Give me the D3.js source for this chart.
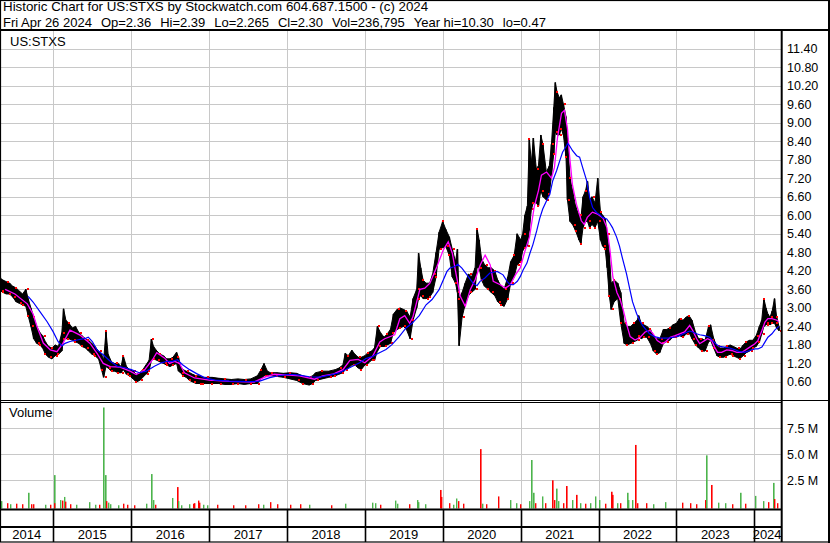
<!DOCTYPE html>
<html><head><meta charset="utf-8">
<script src="https://cdn.jsdelivr.net/npm/d3@7"></script>
<style>
body{margin:0;background:#fff}
svg{display:block}
text{font-family:"Liberation Sans",Arial,sans-serif;font-size:13px;fill:#000}
</style>
</head><body>
<svg id="c" width="830" height="543"></svg>
<script>
// ---------- DATA ----------
const titleLine1 = "Historic Chart for US:STXS by Stockwatch.com 604.687.1500 - (c) 2024";
const titleLine2Parts = ["Fri Apr 26 2024","Op=2.36","Hi=2.39","Lo=2.265","Cl=2.30","Vol=236,795","Year hi=10.30","lo=0.47"];
const symbolLabel = "US:STXS";
const volumeLabel = "Volume";
const dateStart = "2014-04-26", dateEnd = "2024-04-26";
const yearLabels = ["2014","2015","2016","2017","2018","2019","2020","2021","2022","2023","2024"];
const priceTicks = [0.6,1.2,1.8,2.4,3.0,3.6,4.2,4.8,5.4,6.0,6.6,7.2,7.8,8.4,9.0,9.6,10.2,10.8,11.4];
const priceTickLabels = ["0.60","1.20","1.80","2.40","3.00","3.60","4.20","4.80","5.40","6.00","6.60","7.20","7.80","8.40","9.00","9.60","10.20","10.80","11.40"];
const volTicks = [2.5,5.0,7.5];
const volTickLabels = ["2.5 M","5.0 M","7.5 M"];

// price range samples: [date, high, low]
const priceRange = [
["2014-04-26",4.40,3.60],["2014-04-29",3.95,3.55],["2014-05-10",3.90,3.50],["2014-05-25",3.85,3.45],
["2014-06-10",3.80,3.45],["2014-06-25",3.70,3.35],["2014-07-10",3.65,3.20],["2014-07-25",3.55,3.15],
["2014-08-10",3.45,3.10],["2014-08-25",3.60,3.05],["2014-09-05",3.30,2.75],["2014-09-18",3.00,2.40],
["2014-10-01",2.70,2.00],["2014-10-15",2.40,1.85],["2014-10-30",2.20,1.80],["2014-11-12",2.10,1.70],
["2014-11-25",1.90,1.50],["2014-12-10",1.75,1.40],["2014-12-25",1.70,1.35],
["2015-01-10",1.80,1.45],["2015-01-25",1.75,1.50],["2015-02-10",2.20,1.60],["2015-02-18",2.97,2.00],
["2015-03-01",2.60,2.00],["2015-03-15",2.50,2.00],["2015-04-01",2.35,1.95],["2015-04-15",2.40,1.90],
["2015-05-01",2.20,1.85],["2015-05-15",2.10,1.75],["2015-06-01",2.00,1.70],["2015-06-15",1.95,1.60],
["2015-07-01",1.85,1.50],["2015-07-15",1.75,1.45],["2015-08-01",1.60,1.35],["2015-08-15",1.50,1.00],
["2015-08-25",1.30,0.75],["2015-09-05",2.25,1.10],["2015-09-15",1.50,1.05],["2015-10-01",1.25,0.95],
["2015-10-15",1.20,0.95],["2015-11-01",1.20,0.90],["2015-11-15",1.10,0.90],["2015-11-25",1.45,1.00],
["2015-12-10",1.10,0.85],["2015-12-25",1.00,0.80],
["2016-01-10",0.95,0.70],["2016-01-25",0.85,0.60],["2016-02-10",0.90,0.65],["2016-02-25",1.00,0.75],
["2016-03-10",1.15,0.85],["2016-03-25",1.30,0.95],["2016-04-05",1.99,1.30],["2016-04-15",1.75,1.35],
["2016-05-01",1.60,1.30],["2016-05-15",1.50,1.25],["2016-06-01",1.45,1.20],["2016-06-15",1.35,1.15],
["2016-07-01",1.35,1.10],["2016-07-15",1.40,1.15],["2016-08-01",1.56,1.20],["2016-08-10",1.40,0.95],
["2016-08-20",1.10,0.90],["2016-09-01",1.00,0.80],["2016-09-15",0.95,0.75],["2016-10-01",0.90,0.65],
["2016-10-15",0.85,0.60],["2016-11-01",0.80,0.55],["2016-11-15",0.80,0.55],["2016-12-01",0.75,0.55],
["2016-12-15",0.75,0.55],
["2017-01-15",0.75,0.55],["2017-02-15",0.72,0.55],["2017-03-15",0.70,0.52],["2017-04-15",0.68,0.52],
["2017-05-15",0.70,0.55],["2017-06-15",0.68,0.52],["2017-07-15",0.70,0.55],["2017-08-15",0.80,0.55],
["2017-09-01",1.00,0.70],["2017-09-15",1.20,0.80],["2017-10-01",0.95,0.80],["2017-10-15",0.90,0.80],
["2017-11-15",0.90,0.78],["2017-12-15",0.88,0.75],
["2018-01-15",0.90,0.70],["2018-02-15",0.88,0.65],["2018-03-15",0.80,0.55],["2018-04-15",0.75,0.50],
["2018-05-01",0.80,0.55],["2018-05-15",0.90,0.65],["2018-06-15",0.95,0.70],["2018-07-15",0.95,0.75],
["2018-08-15",1.00,0.80],["2018-09-01",1.05,0.85],["2018-09-20",1.15,0.90],["2018-10-01",1.53,1.00],
["2018-10-15",1.45,1.05],["2018-11-01",1.63,1.15],["2018-11-15",1.50,1.15],["2018-12-01",1.40,1.05],
["2018-12-15",1.40,1.00],
["2019-01-01",1.45,1.15],["2019-01-15",1.55,1.20],["2019-02-01",1.60,1.30],["2019-02-15",1.70,1.30],
["2019-03-01",2.40,1.60],["2019-03-15",2.20,1.75],["2019-04-01",2.05,1.75],["2019-04-15",2.15,1.80],
["2019-05-01",2.30,1.85],["2019-05-15",2.80,2.20],["2019-06-01",2.95,2.30],["2019-06-15",3.00,2.35],
["2019-07-01",2.95,2.40],["2019-07-15",2.90,2.30],["2019-08-01",2.70,2.00],["2019-08-15",3.30,2.60],
["2019-09-01",3.60,3.00],["2019-09-10",4.77,3.30],["2019-09-20",4.30,3.40],["2019-10-01",3.90,3.30],
["2019-10-15",3.80,3.30],["2019-11-01",3.80,3.35],["2019-11-15",4.10,3.50],["2019-12-01",4.80,4.00],
["2019-12-15",5.45,4.90],
["2020-01-01",5.80,4.95],["2020-01-15",5.55,5.00],["2020-02-01",5.30,4.70],["2020-02-15",4.90,4.00],
["2020-03-01",4.50,3.80],["2020-03-10",4.90,3.50],["2020-03-18",3.30,1.77],["2020-04-01",3.50,2.70],
["2020-04-15",3.80,3.10],["2020-05-01",4.10,3.40],["2020-05-15",4.00,3.50],["2020-06-01",4.30,3.60],
["2020-06-10",5.57,4.30],["2020-06-20",5.20,4.30],["2020-07-01",4.60,3.90],["2020-07-15",4.40,3.70],
["2020-08-01",4.30,3.60],["2020-08-15",4.30,3.50],["2020-09-01",4.20,3.40],["2020-09-15",3.90,3.20],
["2020-10-01",3.70,3.10],["2020-10-15",3.60,3.05],["2020-11-01",4.00,3.30],["2020-11-15",4.50,3.80],
["2020-12-01",4.70,4.00],["2020-12-15",5.40,4.40],
["2021-01-01",5.20,4.50],["2021-01-10",5.40,4.85],["2021-01-20",6.00,4.95],["2021-02-01",6.30,5.00],
["2021-02-10",8.47,5.50],["2021-02-20",7.70,6.20],["2021-03-01",8.50,6.40],["2021-03-15",7.50,6.40],
["2021-03-25",7.60,6.30],["2021-04-05",8.60,6.80],["2021-04-15",8.30,6.60],["2021-05-01",7.40,6.50],
["2021-05-15",7.60,6.70],["2021-05-25",8.30,7.30],["2021-06-05",9.50,8.00],["2021-06-12",10.30,8.70],
["2021-06-20",10.00,8.60],["2021-07-01",9.80,8.60],["2021-07-10",9.90,8.80],["2021-07-20",9.60,8.60],
["2021-08-01",9.20,7.90],["2021-08-08",8.50,6.50],["2021-08-20",7.20,5.80],["2021-09-01",6.80,5.70],
["2021-09-15",6.30,5.50],["2021-10-01",6.00,5.20],["2021-10-10",5.90,5.07],["2021-10-20",6.60,5.60],
["2021-11-01",6.80,5.80],["2021-11-10",7.10,5.80],["2021-11-20",6.50,5.60],["2021-12-01",6.60,5.70],
["2021-12-15",6.40,5.60],["2021-12-28",7.20,5.80],
["2022-01-10",6.10,5.20],["2022-01-20",6.00,5.00],["2022-02-01",5.90,4.90],["2022-02-10",5.40,4.30],
["2022-02-20",4.80,3.40],["2022-03-01",3.80,2.95],["2022-03-15",3.90,3.20],["2022-04-01",3.80,3.30],
["2022-04-15",3.50,2.50],["2022-05-01",2.50,1.85],["2022-05-15",2.40,1.80],["2022-06-01",2.40,1.85],
["2022-06-15",2.50,1.90],["2022-07-01",2.60,1.95],["2022-07-08",2.75,2.10],["2022-07-20",2.50,2.00],
["2022-08-01",2.45,2.05],["2022-08-15",2.40,2.05],["2022-09-01",2.30,1.85],["2022-09-15",2.10,1.60],
["2022-10-01",2.00,1.50],["2022-10-15",2.00,1.55],["2022-11-01",2.30,1.85],["2022-11-15",2.30,1.90],
["2022-12-01",2.35,1.95],["2022-12-15",2.45,2.05],
["2023-01-01",2.50,2.05],["2023-01-15",2.65,2.10],["2023-02-01",2.60,2.05],["2023-02-15",2.70,2.15],
["2023-03-01",2.75,2.20],["2023-03-15",2.60,2.00],["2023-04-01",2.20,1.80],["2023-04-15",2.00,1.70],
["2023-05-01",2.00,1.60],["2023-05-15",1.95,1.60],["2023-06-01",2.40,1.90],["2023-06-10",2.45,1.95],
["2023-06-25",2.00,1.70],["2023-07-10",1.75,1.45],["2023-07-25",1.70,1.40],["2023-08-10",1.70,1.40],
["2023-08-25",1.75,1.45],["2023-09-10",1.80,1.50],["2023-09-25",1.75,1.45],["2023-10-10",1.70,1.40],
["2023-10-25",1.65,1.35],["2023-11-10",1.80,1.45],["2023-11-25",1.90,1.55],["2023-12-10",1.95,1.60],
["2023-12-25",1.95,1.70],
["2024-01-10",2.10,1.75],["2024-01-25",2.40,1.90],["2024-02-05",2.60,2.15],["2024-02-15",3.30,2.40],
["2024-02-25",3.00,2.45],["2024-03-05",2.80,2.50],["2024-03-15",2.70,2.45],["2024-03-25",2.90,2.50],
["2024-04-05",3.30,2.50],["2024-04-15",2.70,2.35],["2024-04-26",2.40,2.26]
];

// short moving average (magenta): [date, value]
const maShort = [
["2014-05-20",3.60],["2014-07-05",3.45],["2014-09-01",3.13],["2014-09-28",2.80],["2014-10-17",2.39],
["2014-11-15",1.86],["2014-12-18",1.64],["2015-01-18",1.58],["2015-02-15",1.85],["2015-03-20",2.28],
["2015-04-13",2.20],["2015-05-06",2.12],["2015-06-22",1.85],["2015-07-25",1.53],["2015-08-23",1.20],
["2015-09-25",1.10],["2015-11-10",1.08],["2015-12-27",0.95],["2016-01-25",0.84],["2016-03-03",0.98],
["2016-04-10",1.32],["2016-04-30",1.55],["2016-06-05",1.38],["2016-06-29",1.20],["2016-07-22",1.27],
["2016-08-15",1.20],["2016-09-07",0.90],["2016-10-24",0.73],["2017-01-01",0.66],["2017-04-04",0.62],
["2017-07-31",0.60],["2017-09-16",0.75],["2017-11-02",0.85],["2018-01-13",0.82],["2018-02-28",0.80],
["2018-05-10",0.69],["2018-06-17",0.80],["2018-08-03",0.85],["2018-09-20",1.00],["2018-10-23",1.30],
["2018-11-30",1.33],["2019-01-01",1.22],["2019-02-07",1.44],["2019-03-12",1.90],["2019-04-04",2.00],
["2019-05-21",2.13],["2019-06-14",2.65],["2019-07-07",2.75],["2019-07-30",2.50],["2019-08-14",2.70],
["2019-09-16",3.60],["2019-10-09",3.64],["2019-11-02",3.80],["2019-12-05",4.34],["2020-01-04",4.88],
["2020-01-27",5.14],["2020-02-15",4.77],["2020-02-29",4.23],["2020-03-23",3.38],["2020-04-16",3.05],
["2020-05-09",3.59],["2020-06-01",3.91],["2020-06-25",4.39],["2020-07-18",4.71],["2020-08-11",4.39],
["2020-08-25",3.86],["2020-09-27",3.75],["2020-10-21",3.64],["2020-11-13",3.75],["2020-12-07",4.07],
["2020-12-30",4.30],["2021-01-19",4.80],["2021-02-11",5.30],["2021-03-06",6.30],["2021-03-25",6.80],
["2021-04-08",7.30],["2021-05-02",7.40],["2021-05-25",7.20],["2021-06-08",7.55],["2021-06-22",8.50],
["2021-07-11",9.30],["2021-07-25",9.40],["2021-08-08",8.80],["2021-08-17",8.00],["2021-08-31",7.00],
["2021-09-19",6.36],["2021-10-12",5.82],["2021-10-26",5.70],["2021-11-09",5.93],["2021-12-03",6.10],
["2021-12-27",6.04],["2022-01-22",5.90],["2022-02-09",5.60],["2022-02-23",4.90],["2022-03-09",4.00],
["2022-03-28",3.50],["2022-04-12",3.27],["2022-04-26",2.95],["2022-05-15",2.41],["2022-05-29",2.07],
["2022-06-21",1.96],["2022-07-15",2.05],["2022-08-07",2.22],["2022-08-31",2.27],["2022-09-14",2.16],
["2022-10-03",1.94],["2022-10-26",1.84],["2022-11-09",1.89],["2022-12-03",2.05],["2022-12-26",2.10],
["2023-01-16",2.16],["2023-02-08",2.22],["2023-03-04",2.43],["2023-03-18",2.27],["2023-04-06",2.00],
["2023-04-20",1.84],["2023-05-13",1.94],["2023-05-27",2.00],["2023-06-15",1.94],["2023-06-29",1.73],
["2023-07-13",1.56],["2023-08-01",1.56],["2023-08-25",1.64],["2023-09-17",1.62],["2023-10-11",1.56],
["2023-11-03",1.56],["2023-11-17",1.62],["2023-12-11",1.73],["2024-01-04",1.84],["2024-01-18",1.94],
["2024-02-06",2.27],["2024-02-20",2.54],["2024-03-05",2.65],["2024-03-24",2.65],["2024-04-16",2.60],
["2024-04-26",2.55]
];

// long moving average (blue): [date, value]
const maLong = [
["2014-09-05",3.37],["2014-09-28",3.19],["2014-10-31",2.87],["2014-12-03",2.55],["2014-12-31",2.23],
["2015-01-23",1.91],["2015-02-11",1.77],["2015-02-25",1.85],["2015-03-20",1.91],["2015-04-23",1.96],
["2015-05-30",2.01],["2015-06-14",2.05],["2015-07-03",1.91],["2015-07-25",1.64],["2015-08-23",1.48],
["2015-09-25",1.27],["2015-10-28",1.11],["2015-12-04",1.06],["2016-01-02",1.00],["2016-02-08",0.90],
["2016-03-12",0.95],["2016-04-19",1.11],["2016-05-22",1.22],["2016-06-19",1.27],["2016-07-13",1.27],
["2016-08-05",1.32],["2016-08-29",1.16],["2016-10-01",1.00],["2016-11-03",0.87],["2016-12-10",0.74],
["2017-01-27",0.66],["2017-04-07",0.63],["2017-07-10",0.61],["2017-08-26",0.63],["2017-10-12",0.74],
["2017-11-28",0.81],["2018-01-13",0.85],["2018-02-28",0.82],["2018-04-16",0.77],["2018-06-02",0.76],
["2018-07-19",0.82],["2018-09-04",0.90],["2018-10-21",1.06],["2018-12-07",1.22],["2019-01-06",1.36],
["2019-02-03",1.42],["2019-03-08",1.54],["2019-04-10",1.65],["2019-05-08",1.81],["2019-06-10",2.06],
["2019-07-13",2.35],["2019-08-10",2.50],["2019-09-13",2.75],["2019-10-15",3.10],["2019-11-12",3.27],
["2019-12-15",3.59],["2020-01-21",4.18],["2020-02-04",4.29],["2020-02-27",4.34],["2020-03-12",4.41],
["2020-03-31",4.29],["2020-04-24",4.07],["2020-05-22",3.80],["2020-06-10",3.72],["2020-06-24",3.86],
["2020-07-17",3.97],["2020-08-09",4.13],["2020-09-12",4.18],["2020-10-10",4.07],["2020-10-29",3.86],
["2020-11-12",3.75],["2020-11-27",3.75],["2020-12-16",3.86],["2020-12-30",4.02],["2021-01-12",4.23],
["2021-01-30",4.45],["2021-02-13",4.77],["2021-02-27",5.05],["2021-03-17",5.50],["2021-03-31",5.90],
["2021-04-14",6.20],["2021-05-02",6.47],["2021-05-17",6.67],["2021-05-31",7.12],["2021-06-18",7.44],
["2021-07-03",7.77],["2021-07-16",8.04],["2021-08-04",8.25],["2021-08-09",8.33],["2021-08-18",8.25],
["2021-09-01",8.09],["2021-09-20",7.93],["2021-10-04",7.88],["2021-10-18",7.55],["2021-11-06",7.12],
["2021-11-20",6.58],["2021-12-04",6.25],["2021-12-22",6.09],["2022-01-06",6.02],["2022-01-20",5.93],
["2022-02-08",5.88],["2022-02-22",5.75],["2022-03-07",5.60],["2022-03-26",5.30],["2022-04-09",5.00],
["2022-04-23",4.60],["2022-05-12",4.10],["2022-05-26",3.65],["2022-06-09",3.20],["2022-06-28",2.82],
["2022-07-12",2.60],["2022-07-26",2.43],["2022-08-14",2.27],["2022-08-28",2.16],["2022-09-20",2.07],
["2022-10-14",2.03],["2022-11-06",2.02],["2022-11-30",2.03],["2022-12-23",2.05],["2023-01-16",2.10],
["2023-02-08",2.18],["2023-03-04",2.25],["2023-03-18",2.22],["2023-04-05",2.16],["2023-04-20",2.13],
["2023-05-13",2.10],["2023-06-06",2.05],["2023-06-20",1.94],["2023-07-08",1.81],["2023-07-22",1.75],
["2023-08-15",1.73],["2023-09-07",1.70],["2023-10-01",1.65],["2023-10-24",1.58],["2023-11-17",1.56],
["2023-12-11",1.62],["2024-01-04",1.67],["2024-01-18",1.67],["2024-02-06",1.73],["2024-02-20",1.89],
["2024-03-05",2.05],["2024-03-24",2.16],["2024-04-07",2.29],["2024-04-26",2.40]
];

// volume bars: [date, millions of shares, up day?]
const volumeBars = [
["2014-04-30",0.5,1],["2014-05-28",0.3,0],["2014-06-12",0.2,1],["2014-07-10",0.25,0],["2014-08-06",0.2,0],
["2014-09-02",1.3,1],["2014-09-19",0.2,0],["2014-09-28",0.2,0],["2014-11-24",0.15,1],["2014-12-18",0.15,0],
["2015-01-02",3.0,1],["2015-01-05",0.3,0],["2015-02-03",0.6,1],["2015-02-09",0.55,0],["2015-02-18",0.9,1],
["2015-02-25",0.45,0],["2015-03-20",0.2,0],["2015-04-17",0.15,1],["2015-06-18",0.4,1],["2015-07-15",0.15,1],
["2015-08-03",0.15,0],["2015-08-24",9.5,1],["2015-09-01",3.0,1],["2015-09-04",0.5,0],["2015-09-15",0.35,1],
["2015-09-23",0.2,1],["2015-10-31",0.1,1],["2015-11-25",0.25,0],["2015-12-12",0.15,0],["2016-01-14",0.1,0],
["2016-03-11",0.25,1],["2016-04-04",3.1,1],["2016-04-11",0.6,1],["2016-04-22",0.15,0],["2016-07-10",0.8,1],
["2016-08-03",1.85,0],["2016-08-10",0.5,1],["2016-08-23",0.1,1],["2016-09-30",0.2,1],["2016-10-16",0.25,0],
["2016-10-23",0.3,0],["2016-11-10",0.55,0],["2016-11-16",0.35,0],["2016-12-05",0.15,1],["2016-12-24",0.1,1],
["2017-02-08",0.15,0],["2017-04-24",0.1,0],["2017-06-20",0.1,0],["2017-08-20",0.2,0],["2017-09-12",0.15,1],
["2017-10-15",0.4,0],["2017-11-15",0.2,0],["2018-01-13",0.15,0],["2018-03-01",0.2,0],["2018-04-13",0.15,1],
["2018-07-25",0.1,0],["2018-09-29",0.25,1],["2019-02-02",0.35,1],["2019-02-18",0.3,1],["2019-03-12",0.15,0],
["2019-05-22",0.55,1],["2019-06-01",0.25,1],["2019-07-27",0.2,0],["2019-09-02",0.6,1],["2019-09-08",0.4,1],
["2019-10-10",0.2,1],["2019-12-17",1.57,0],["2019-12-24",0.9,0],["2020-01-29",0.3,0],["2020-02-16",0.15,1],
["2020-03-03",0.75,1],["2020-03-15",0.5,0],["2020-04-07",0.25,0],["2020-06-23",5.5,0],["2020-07-01",0.25,1],
["2020-07-20",0.2,0],["2020-09-18",0.95,0],["2020-11-10",0.6,1],["2020-12-08",0.3,1],["2020-12-27",0.2,0],
["2021-02-07",0.5,1],["2021-02-19",4.45,1],["2021-02-27",1.3,1],["2021-03-07",0.3,0],["2021-04-12",0.95,1],
["2021-04-23",0.3,0],["2021-05-29",2.5,0],["2021-06-05",0.6,0],["2021-06-13",1.7,1],["2021-06-24",0.5,1],
["2021-07-17",0.3,0],["2021-08-03",1.95,0],["2021-08-27",0.6,1],["2021-09-15",1.1,0],["2021-10-05",0.3,1],
["2021-10-29",0.25,0],["2021-11-21",0.3,1],["2021-12-15",0.95,1],["2022-01-05",0.6,1],["2022-02-01",0.25,0],
["2022-02-27",1.4,0],["2022-03-06",1.1,0],["2022-03-29",0.3,1],["2022-04-12",0.3,0],["2022-05-13",1.3,1],
["2022-05-21",0.6,1],["2022-06-06",0.6,1],["2022-06-21",5.9,0],["2022-07-01",0.3,0],["2022-08-12",0.3,0],
["2022-09-14",0.2,1],["2022-11-09",0.4,1],["2023-01-29",0.35,0],["2023-03-04",0.3,0],["2023-04-01",0.2,0],
["2023-05-15",0.6,0],["2023-05-18",4.9,1],["2023-06-14",2.05,0],["2023-07-13",0.35,1],["2023-08-16",0.3,1],
["2023-09-17",0.2,0],["2023-10-24",1.3,1],["2023-11-17",0.25,0],["2024-01-06",1.0,1],["2024-02-12",0.5,1],
["2024-03-05",0.4,0],["2024-03-29",2.25,1],["2024-04-03",0.7,0],["2024-04-16",0.3,0]
];

// ---------- DRAW ----------
const parse = d3.timeParse("%Y-%m-%d");
const svg = d3.select("#c");
const plotR = 781;
const GRID = "#c8c8c8";

const x = d3.scaleTime().domain([parse(dateStart), parse(dateEnd)]).range([0, 779]);
const y = d3.scaleLinear().domain([0, 12]).range([400.5, 30]);
const yv = d3.scaleLinear().domain([0, 10]).range([506.3, 402.3]);
const volBase = 508.5;

svg.append("rect").attr("width",830).attr("height",543).attr("fill","#fff");

const defs = svg.append("defs");
defs.append("clipPath").attr("id","pclip").append("rect").attr("x",0).attr("y",31).attr("width",plotR).attr("height",369);

const years = d3.timeYear.range(parse("2015-01-01"), parse("2024-04-26"));

// gridlines
const g = svg.append("g");
g.selectAll(".hg").data(priceTicks).join("line")
  .attr("x1",0).attr("x2",plotR).attr("y1",d=>Math.round(y(d))+0.5).attr("y2",d=>Math.round(y(d))+0.5)
  .attr("stroke",GRID).attr("stroke-width",1);
g.selectAll(".vg").data(years).join("line")
  .attr("x1",d=>Math.round(x(d))+0.5).attr("x2",d=>Math.round(x(d))+0.5).attr("y1",31).attr("y2",400)
  .attr("stroke",GRID).attr("stroke-width",1);
g.selectAll(".vhg").data(volTicks).join("line")
  .attr("x1",0).attr("x2",plotR).attr("y1",d=>Math.round(yv(d))+0.5).attr("y2",d=>Math.round(yv(d))+0.5)
  .attr("stroke",GRID).attr("stroke-width",1);
g.selectAll(".vvg").data(years).join("line")
  .attr("x1",d=>Math.round(x(d))+0.5).attr("x2",d=>Math.round(x(d))+0.5).attr("y1",403).attr("y2",509)
  .attr("stroke",GRID).attr("stroke-width",1);

// price band
const pr = priceRange.map(r=>({date:parse(r[0]),hi:r[1],lo:r[2]}));
const pg = svg.append("g").attr("clip-path","url(#pclip)");
pg.append("path").datum(pr)
  .attr("d", d3.area().x(d=>x(d.date)).y0(d=>y(d.lo)).y1(d=>y(d.hi)))
  .attr("fill","#000").attr("stroke","#000").attr("stroke-width",1);
pg.selectAll(".bar").data(pr).join("line")
  .attr("x1",d=>x(d.date)).attr("x2",d=>x(d.date)).attr("y1",d=>y(d.hi)).attr("y2",d=>y(d.lo))
  .attr("stroke","#000").attr("stroke-width",1.6);
pg.selectAll(".rd").data(pr).join("rect")
  .attr("x",(d,i)=>Math.round(x(d.date))+(i%2?1:-1))
  .attr("y",(d,i)=>Math.round(i%3===0 ? y(d.hi) : y(d.lo))-1)
  .attr("width",2).attr("height",2).attr("fill","#ff0000");

const line = d3.line().x(d=>x(parse(d[0]))).y(d=>y(d[1]));
pg.append("path").datum(maShort).attr("d",line).attr("fill","none").attr("stroke","#ff00ff").attr("stroke-width",1.3);
pg.append("path").datum(maLong).attr("d",line).attr("fill","none").attr("stroke","#0000ff").attr("stroke-width",1.2);

// volume bars
svg.append("g").selectAll("rect").data(volumeBars).join("rect")
  .attr("x",d=>Math.round(x(parse(d[0]))))
  .attr("y",d=>yv(d[1]))
  .attr("width",d=>d[1]>1?1.6:1.4)
  .attr("height",d=>volBase-yv(d[1]))
  .attr("fill",d=>d[2]?"#4cb44c":"#ff0000");

// frame lines
const fl = svg.append("g").attr("stroke","#000");
fl.append("line").attr("x1",0).attr("x2",830).attr("y1",30).attr("y2",30).attr("stroke-width",2);
fl.append("line").attr("x1",plotR+0.7).attr("x2",plotR+0.7).attr("y1",30).attr("y2",542).attr("stroke-width",2);
fl.append("line").attr("x1",0).attr("x2",830).attr("y1",400.5).attr("y2",400.5).attr("stroke-width",1);
fl.append("line").attr("x1",0).attr("x2",plotR).attr("y1",402.5).attr("y2",402.5).attr("stroke-width",1);
fl.append("line").attr("x1",0).attr("x2",plotR).attr("y1",509.5).attr("y2",509.5).attr("stroke-width",2);
fl.append("line").attr("x1",0).attr("x2",plotR).attr("y1",527).attr("y2",527).attr("stroke-width",2);
fl.selectAll(".yd").data(years).join("line")
  .attr("x1",d=>Math.round(x(d))+0.5).attr("x2",d=>Math.round(x(d))+0.5).attr("y1",509).attr("y2",542)
  .attr("stroke-width",1.6);
svg.append("rect").attr("x",0.5).attr("y",0.5).attr("width",828.5).attr("height",541.5)
  .attr("fill","none").attr("stroke","#000").attr("stroke-width",1.2);
svg.append("line").attr("x1",829).attr("x2",829).attr("y1",0).attr("y2",543).attr("stroke","#000").attr("stroke-width",2);

// texts
const t = svg.append("g");
t.append("text").attr("x",3).attr("y",11).style("font-size","13.33px").text(titleLine1);
// second header line: parts laid out left to right with a double-space gap
let cx = 3;
titleLine2Parts.forEach(p=>{
  const el = t.append("text").attr("x",cx).attr("y",26.5).text(p);
  cx += el.node().getComputedTextLength() + 9;
});
t.append("text").attr("x",10).attr("y",46).text(symbolLabel);
t.append("text").attr("x",9).attr("y",417).text(volumeLabel);
t.selectAll(".pl").data(priceTicks).join("text")
  .attr("x",787).attr("y",d=>y(d)+4.5).style("font-size","12.5px").text((d,i)=>priceTickLabels[i]);
t.selectAll(".vl").data(volTicks).join("text")
  .attr("x",787).attr("y",d=>yv(d)+4.5).style("font-size","12.5px").text((d,i)=>volTickLabels[i]);
const bounds = [0, ...years.map(d=>x(d)), x(parse(dateEnd))+1];
t.selectAll(".yl").data(yearLabels).join("text")
  .attr("x",(d,i)=>(bounds[i]+bounds[i+1])/2).attr("y",539).attr("text-anchor","middle")
  .text(d=>d);
</script>
</body></html>
